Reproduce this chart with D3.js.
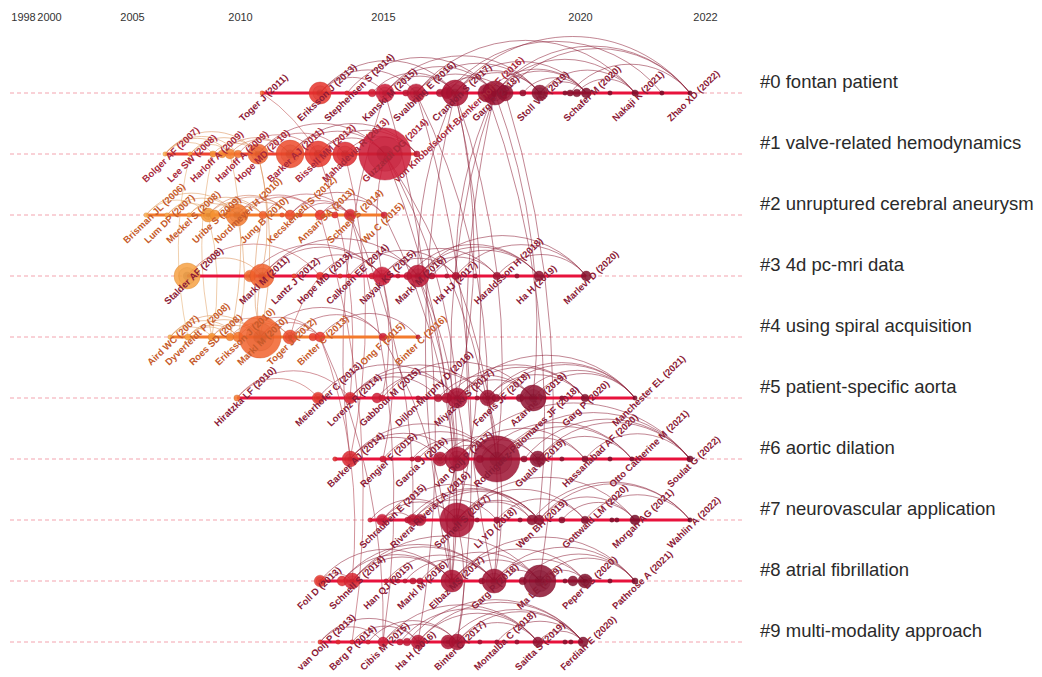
<!DOCTYPE html>
<html>
<head>
<meta charset="utf-8">
<script src="https://cdn.jsdelivr.net/npm/d3@7"></script>
<style>
  body { margin: 0; background: #fff; }
  svg { display: block; font-family: "Liberation Sans", Arial, Helvetica, sans-serif; }
</style>
</head>
<body>
<div id="chart"></div>
<script>
const tickYears = [1998, 2000, 2005, 2010, 2015, 2020, 2022];

const clusterNames = [
  '#0 fontan patient', '#1 valve-related hemodynamics', '#2 unruptured cerebral aneurysm',
  '#3 4d pc-mri data', '#4 using spiral acquisition', '#5 patient-specific aorta',
  '#6 aortic dilation', '#7 neurovascular application', '#8 atrial fibrillation',
  '#9 multi-modality approach'
];
const clusterMeanYear = [2016, 2012, 2010, 2014, 2010, 2016, 2017, 2017, 2017, 2016];

// nodes: [time position, citations, label]
const nodes0 = [
  [2010.77, 1, 'Toger J (2011)'], [2012.80, 25, 'Eriksson J (2013)'], [2013.74, 1, 'Stephensen S (2014)'],
  [2014.62, 3, ''], [2015.05, 17, 'Kanski M (2015)'], [2015.58, 2, ''], [2015.84, 17, 'Svalbring E (2016)'],
  [2016.45, 3, ''], [2016.62, 7, ''], [2016.83, 35, 'Crandon S (2017)'], [2017.64, 17, ''],
  [2017.84, 30, 'Garg P (2018)'], [2018.10, 13, ''], [2018.55, 2, ''], [2018.98, 13, 'Stoll VM (2019)'],
  [2019.62, 1, ''], [2019.75, 2, ''], [2019.92, 3, ''], [2020.10, 5, 'Schafer M (2020)'],
  [2020.48, 1, ''], [2020.88, 2, 'Nakaji K (2021)'], [2021.31, 1, ''], [2021.76, 1, 'Zhao XD (2022)']
];
const nodes1 = [
  [2006.53, 1, 'Bolger AF (2007)'], [2007.69, 1, 'Lee SW (2008)'], [2008.75, 2, 'Harloff A (2009)'],
  [2009.17, 3, ''], [2009.54, 5, ''], [2009.91, 3, 'Harloff A (2009)'], [2010.63, 21, 'Hope MD (2010)'],
  [2011.75, 40, 'Barker AJ (2011)'], [2012.73, 35, 'Bissell MM (2012)'], [2013.67, 30, 'Mahadevia R (2013)'],
  [2015.05, 140, 'Guzzardi DG (2014)'], [2015.86, 2, 'von Knobelsdorff-Brenkenhoff F (2016)']
];
const nodes2 = [
  [2005.65, 1, 'Brisman JL (2006)'], [2006.62, 1, 'Lum DP (2007)'], [2007.64, 1, 'Meckel S (2008)'],
  [2008.52, 10, ''], [2008.84, 5, 'Uribe S (2009)'], [2009.40, 2, ''], [2009.86, 25, 'Nordmeyer H (2010)'],
  [2010.17, 2, ''], [2010.80, 3, 'Jung B (2010)'], [2011.47, 1, ''], [2011.75, 5, 'Kecskemeti S (2012)'],
  [2012.10, 1, ''], [2012.80, 5, 'Ansari SA (2013)'], [2013.32, 2, ''], [2013.85, 7, 'Schnell S (2014)'],
  [2015.03, 2, 'Wu C (2015)']
];
const nodes3 = [
  [2007.55, 35, 'Stalder AF (2008)'], [2010.35, 7, ''], [2010.77, 30, 'Markl M (2011)'],
  [2011.89, 1, 'Lantz J (2012)'], [2012.80, 3, 'Hope MD (2013)'], [2013.50, 1, ''],
  [2013.81, 1, 'Calkoen EE (2014)'], [2014.62, 2, ''], [2014.97, 17, 'Nayak KS (2015)'], [2015.38, 1, ''],
  [2015.63, 3, ''], [2015.89, 25, 'Markl M (2016)'], [2016.24, 2, ''], [2016.62, 1, ''],
  [2016.85, 3, 'Ha HJ (2017)'], [2017.34, 1, ''], [2017.89, 3, 'Haraldsson H (2018)'], [2018.40, 1, ''],
  [2018.96, 5, 'Ha H (2019)'], [2020.10, 5, 'Marlevi D (2020)']
];
const nodes4 = [
  [2006.76, 1, 'Aird WC (2007)'], [2007.59, 2, 'Dyverfeldt P (2008)'], [2008.70, 3, 'Roes SD (2008)'],
  [2009.54, 3, ''], [2009.91, 5, 'Eriksson J (2010)'], [2010.70, 91, 'Markl M (2010)'],
  [2011.75, 10, 'Toger J (2012)'], [2012.55, 3, ''], [2012.80, 5, 'Binter C (2013)'],
  [2015.00, 3, 'Ong F (2015)'], [2015.89, 1, 'Binter C (2016)']
];
const nodes5 = [
  [2009.86, 2, 'Hiratzka LF (2010)'], [2012.73, 7, 'Meierhofer C (2013)'], [2013.85, 7, 'Lorenz R (2014)'],
  [2014.79, 5, ''], [2014.97, 2, 'Gabbour M (2015)'], [2015.89, 1, 'Dillon-Murphy D (2016)'],
  [2016.40, 3, ''], [2016.62, 5, ''], [2016.88, 21, 'Miyazaki S (2017)'], [2017.39, 1, ''],
  [2017.66, 13, ''], [2017.87, 3, 'Fenels JF (2018)'], [2018.48, 3, ''], [2018.81, 35, 'Azarine A (2019)'],
  [2019.54, 1, ''], [2020.08, 3, 'Garg P (2020)'], [2020.88, 1, 'Manchester EL (2021)']
];
const nodes6 = [
  [2013.32, 1, ''], [2013.85, 13, 'Barker AJ (2014)'], [2015.00, 2, 'Rengier F (2015)'], [2015.74, 1, ''],
  [2015.89, 2, 'Garcia J (2016)'], [2016.45, 10, ''], [2016.88, 30, 'van Ooij P (2017)'], [2017.46, 3, ''],
  [2017.89, 109, 'Rodriguez-Palomares JF (2018)'], [2018.58, 2, ''], [2018.93, 13, 'Guala A (2019)'],
  [2019.54, 1, ''], [2020.08, 2, 'Hassanabad AF (2020)'], [2020.48, 1, ''],
  [2020.83, 1, 'Otto Catherine M (2021)'], [2021.76, 2, 'Soulat G (2022)']
];
const nodes7 = [
  [2014.55, 1, ''], [2014.97, 7, 'Schrauben E (2015)'], [2015.63, 2, ''], [2015.76, 7, 'Rivera-Rivera LA (2016)'],
  [2015.94, 7, ''], [2016.88, 60, 'Schnell S (2017)'], [2017.39, 1, ''], [2017.89, 2, 'Li YD (2018)'],
  [2018.48, 1, ''], [2018.78, 5, ''], [2018.96, 5, 'Wen BH (2019)'], [2019.54, 2, ''],
  [2020.08, 3, 'Gottwald LM (2020)'], [2020.51, 1, ''], [2020.59, 1, ''], [2020.88, 5, 'Morgan AG (2021)'],
  [2021.76, 1, 'Wahlin A (2022)']
];
const nodes8 = [
  [2012.80, 7, 'Foll D (2013)'], [2013.57, 5, ''], [2013.92, 13, 'Schnell S (2014)'], [2015.08, 1, 'Han QJ (2015)'],
  [2015.23, 1, ''], [2015.38, 1, ''], [2015.56, 1, ''], [2015.76, 2, ''], [2015.94, 2, 'Markl M (2016)'],
  [2016.75, 25, 'Elbaz MS (2017)'], [2017.51, 2, ''], [2017.82, 30, 'Garg P (2018)'], [2018.55, 3, ''],
  [2018.98, 53, 'Ma LE (2019)'], [2019.62, 1, ''], [2019.82, 5, ''], [2020.08, 10, 'Peper ES (2020)'],
  [2020.48, 1, ''], [2020.88, 2, 'Pathrose A (2021)']
];
const nodes9 = [
  [2012.80, 1, 'van Ooij P (2013)'], [2013.43, 1, ''], [2013.92, 1, 'Berg P (2014)'], [2014.48, 1, ''],
  [2015.00, 5, 'Cibis M (2015)'], [2015.43, 2, ''], [2015.61, 3, ''], [2015.89, 10, 'Ha H (2016)'],
  [2016.65, 10, ''], [2016.88, 13, 'Binter C (2017)'], [2017.46, 1, ''], [2017.89, 1, 'Montalba C (2018)'],
  [2018.40, 1, ''], [2018.93, 5, 'Saitta S (2019)'], [2019.62, 1, ''], [2019.77, 1, ''],
  [2020.05, 5, 'Ferdian E (2020)']
];
const rowNodes = [nodes0, nodes1, nodes2, nodes3, nodes4, nodes5, nodes6, nodes7, nodes8, nodes9];

// co-citation links inside a cluster: [node i, node j]
const arcs0 = [[1,4],[1,6],[1,9],[4,9],[4,11],[4,14],[6,11],[6,14],[6,20],[8,14],[9,14],[9,18],[9,22],
  [10,18],[11,18],[11,20],[11,22],[12,22],[14,20],[14,18],[17,20],[3,9],[2,11],[7,12],[13,18],[16,22],[8,21]];
const arcs1 = [[0,2],[0,4],[0,5],[1,4],[1,6],[2,6],[3,7],[4,7],[5,8],[0,6],[6,9],[7,10],[8,10],[9,11],
  [7,11],[6,10],[8,11]];
const arcs2 = [[0,3],[0,6],[1,4],[1,6],[2,6],[2,8],[3,8],[3,10],[4,10],[5,8],[6,10],[6,12],[7,12],
  [8,14],[10,14],[10,15],[12,15],[12,14],[11,14]];
const arcs3 = [[0,2],[0,4],[1,8],[2,8],[2,11],[4,11],[3,8],[8,14],[8,16],[11,16],[11,18],[11,19],[14,19],
  [16,19],[10,18],[6,14],[12,18]];
const arcs4 = [[0,4],[0,5],[1,5],[1,4],[2,5],[2,6],[3,6],[0,2],[1,3],[4,8],[5,8],[6,9],[8,10],[5,9],[6,8]];
const arcs5 = [[0,1],[0,2],[1,8],[2,8],[2,10],[3,10],[4,13],[8,13],[8,15],[10,15],[10,16],[13,16],[8,16],
  [6,13],[7,15],[11,16],[12,16],[2,6]];
const arcs6 = [[1,6],[1,8],[2,8],[4,8],[5,10],[6,10],[6,12],[8,12],[8,14],[8,15],[10,15],[6,15],[10,14],
  [5,8],[1,5],[9,15],[12,15],[7,14],[3,8]];
const arcs7 = [[0,5],[1,5],[1,9],[2,10],[3,10],[4,10],[3,7],[5,10],[5,12],[5,15],[7,12],[10,15],[9,16],
  [12,16],[10,16],[5,9],[11,15],[1,3]];
const arcs8 = [[0,2],[0,9],[1,9],[2,9],[2,11],[2,13],[9,13],[9,16],[11,16],[11,13],[11,18],[13,18],[13,16],
  [8,13],[3,11],[6,11],[12,18],[9,18],[1,11]];
const arcs9 = [[0,4],[0,7],[2,7],[4,9],[4,13],[7,13],[7,16],[9,16],[9,13],[8,16],[6,16],[11,16],[5,13],
  [3,9],[13,16]];
const rowArcs = [arcs0, arcs1, arcs2, arcs3, arcs4, arcs5, arcs6, arcs7, arcs8, arcs9];

// links between clusters: [cluster a, node i, cluster b, node j]
const crossLinks = [
  [0,9,5,8],[0,11,5,13],[0,6,5,10],[0,9,6,8],[0,11,6,6],[0,4,6,1],[0,9,7,5],[0,10,7,10],
  [0,11,8,11],[0,9,8,9],[0,12,8,13],[0,6,9,9],[0,4,9,7],[0,9,3,11],[0,11,3,14],[0,0,1,8],
  [1,6,3,2],[1,10,3,8],[1,10,5,8],[1,8,5,2],[1,10,6,8],[1,9,6,1],[1,10,8,9],
  [1,1,4,1],[1,4,4,3],[1,6,4,5],[1,2,4,2],[2,3,4,2],[2,6,4,4],[2,8,4,5],
  [2,12,9,2],[2,14,9,4],[2,14,7,3],[2,15,7,5],[3,11,6,6],[3,8,6,2],[3,11,8,9],[3,14,8,11],
  [3,8,5,4],[4,5,3,2],[4,6,3,4],[4,8,8,2],[4,9,8,9],[4,8,9,4],[5,8,7,5],[5,10,8,11],
  [6,6,8,9],[7,5,9,9]
];

// ---- layout ----
const W = 1042, H = 677;
const svg = d3.select('#chart').append('svg').attr('width', W).attr('height', H);

const x = d3.scaleLinear().domain(tickYears).range([23, 49, 132, 240, 383, 580, 705]);
const rowY = i => 93 + i * 61;
const r = d3.scaleSqrt().domain([0, 150]).range([0, 27]);
const nodeR = n => Math.max(2, r(n));

const nodeColor = d3.scaleLinear()
  .domain([2006, 2009, 2011, 2013, 2015, 2017, 2019, 2022])
  .range(['#f9b458', '#f5902f', '#f05a2c', '#e5302c', '#cc1a36', '#a81232', '#8c1230', '#6e0a26'])
  .clamp(true);
const linkColor = d3.scaleLinear()
  .domain([2008, 2011, 2013, 2016])
  .range(['#e3a96a', '#d98a50', '#b8404a', '#8c1e36'])
  .clamp(true);
const lineColor = y => y <= 2010 ? '#f47a2c' : y <= 2012 ? '#f04232' : '#e8123c';
const labelColor = y => y <= 2010 ? '#c65a2a' : y <= 2012 ? '#a8283a' : '#8c1a36';

const pos = (c, i) => ({ x: x(rowNodes[c][i][0]), y: rowY(c), t: rowNodes[c][i][0] });

function arcPath(a, b, k) {
  const [p, q] = a.x <= b.x ? [a, b] : [b, a];
  const R = k * Math.hypot(q.x - p.x, q.y - p.y);
  return `M${p.x},${p.y} A${R},${R} 0 0 1 ${q.x},${q.y}`;
}

// axis (labels only)
const axis = svg.append('g')
  .attr('transform', 'translate(0,13)')
  .call(d3.axisTop(x).tickValues(tickYears).tickSize(0).tickFormat(d3.format('d')));
axis.select('.domain').remove();
axis.selectAll('text').attr('fill', '#333').attr('font-size', 11).attr('dy', '0.71em').attr('y', 0)
  .attr('font-family', '"Liberation Sans", Arial, sans-serif');

// dashed background lines
svg.append('g').selectAll('line').data(clusterNames).join('line')
  .attr('x1', 10).attr('x2', 745)
  .attr('y1', (d, i) => rowY(i)).attr('y2', (d, i) => rowY(i))
  .attr('stroke', '#f3a3ae').attr('stroke-width', 1).attr('stroke-dasharray', '4,3');

// links
const linkLayer = svg.append('g').attr('fill', 'none');
rowArcs.forEach((arcs, c) => {
  arcs.forEach(([i, j]) => {
    const a = pos(c, i), b = pos(c, j);
    linkLayer.append('path')
      .attr('d', arcPath(a, b, 0.64))
      .attr('stroke', linkColor(Math.max(a.t, b.t)))
      .attr('stroke-opacity', 0.6)
      .attr('stroke-width', 0.9);
  });
});
crossLinks.forEach(([c1, i, c2, j]) => {
  const a = pos(c1, i), b = pos(c2, j);
  linkLayer.append('path')
    .attr('d', arcPath(a, b, 2.2))
    .attr('stroke', linkColor(Math.max(a.t, b.t)))
    .attr('stroke-opacity', 0.6)
    .attr('stroke-width', 0.9);
});

// solid timelines
svg.append('g').selectAll('line').data(rowNodes).join('line')
  .attr('x1', d => x(d3.min(d, n => n[0])))
  .attr('x2', d => x(d3.max(d, n => n[0])))
  .attr('y1', (d, i) => rowY(i)).attr('y2', (d, i) => rowY(i))
  .attr('stroke', (d, i) => lineColor(clusterMeanYear[i]))
  .attr('stroke-width', 2.8);

// nodes with citation rings
const nodeLayer = svg.append('g');
rowNodes.forEach((nodes, c) => {
  nodes.forEach(([t, n]) => {
    const rad = nodeR(n);
    const col = nodeColor(t);
    const g = nodeLayer.append('g').attr('transform', `translate(${x(t)},${rowY(c)})`);
    g.append('circle').attr('r', rad)
      .attr('fill', col).attr('fill-opacity', 0.85)
      .attr('stroke', d3.color(col).darker(0.5)).attr('stroke-opacity', 0.6).attr('stroke-width', 0.6);
    if (rad > 5) {
      g.append('circle').attr('r', rad * 0.66)
        .attr('fill', d3.color(col).darker(0.2)).attr('fill-opacity', 0.3)
        .attr('stroke', d3.color(col).darker(0.4)).attr('stroke-opacity', 0.35).attr('stroke-width', 0.6);
      g.append('circle').attr('r', rad * 0.32)
        .attr('fill', d3.color(col).darker(0.5)).attr('fill-opacity', 0.35);
    }
  });
});

// node labels
const labelLayer = svg.append('g')
  .attr('font-size', 9.5).attr('font-weight', 'bold');
rowNodes.forEach((nodes, c) => {
  nodes.filter(d => d[2]).forEach(([t, n, label]) => {
    labelLayer.append('text')
      .attr('transform', `translate(${x(t) - 19},${rowY(c) + 29}) rotate(-44)`)
      .attr('fill', labelColor(clusterMeanYear[c]))
      .text(label);
  });
});

// cluster labels
svg.append('g').selectAll('text').data(clusterNames).join('text')
  .attr('x', 760).attr('y', (d, i) => rowY(i) - 5)
  .attr('font-size', 18.5).attr('fill', '#2a2a2a')
  .text(d => d);
</script>
</body>
</html>
